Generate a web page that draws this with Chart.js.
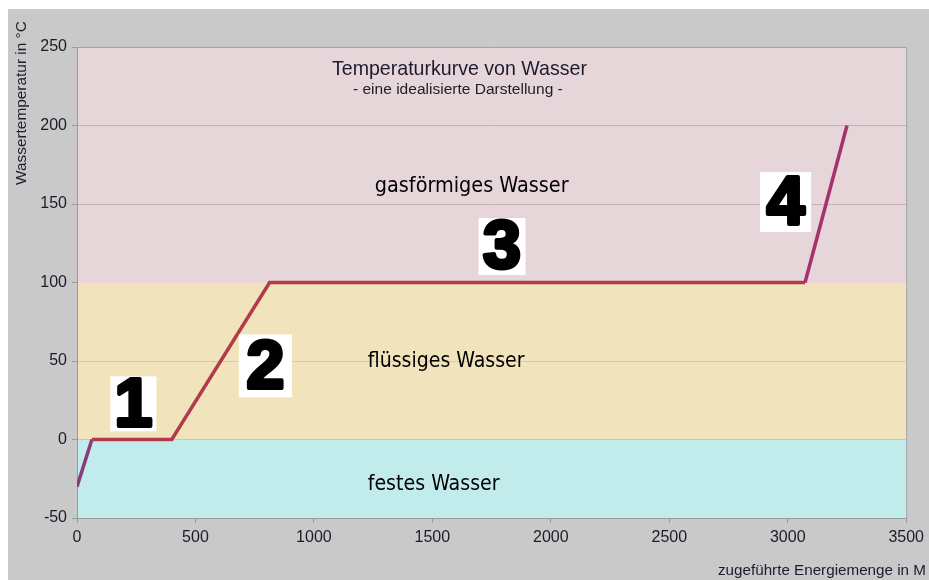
<!DOCTYPE html>
<html>
<head>
<meta charset="utf-8">
<script src="https://cdn.jsdelivr.net/npm/chart.js@4.4.1/dist/chart.umd.min.js"></script>
<style>
  html, body { margin: 0; padding: 0; background: #fff; }
  #wrap { width: 929px; height: 580px; }
</style>
</head>
<body>
<div id="wrap"><canvas id="myChart" width="929" height="580"></canvas></div>
<script>
// Werte
const energy = [0, 63, 400, 813, 3073, 3250];
const temperature = [-30, 0, 0, 100, 100, 200];
const segmentColors = ['#8c3a7e', '#b23a4a', '#b23a4a', '#b23a4a', '#a8306c'];

const phaseNames = ['festes Wasser', 'flüssiges Wasser', 'gasförmiges Wasser'];
const phaseFrom = [-50, 0, 100];
const phaseTo = [0, 100, 250];
const phaseColors = ['#c2ebec', '#f1e4bc', '#e6d6d9'];

const stageLabels = ['1', '2', '3', '4'];

const yMin = -50, yMax = 250, yStep = 50;
const xMin = 0, xMax = 3500, xStep = 500;

const gridColors = { 250: 'rgba(0,0,0,0)', 200: '#c9b0b4', 150: '#c9b0b4', 100: '#efd3da', 50: '#dccb9e', 0: '#a2d6de', '-50': 'rgba(0,0,0,0)' };

// helper: font size so that the text gets a given width
function fitSize(ctx, text, family, weight, width) {
  ctx.font = weight + ' 100px ' + family;
  return 100 * width / ctx.measureText(text).width;
}
function drawFit(ctx, text, x, y, width, family, weight, color) {
  const size = fitSize(ctx, text, family, weight, width);
  ctx.font = weight + ' ' + size + 'px ' + family;
  ctx.fillStyle = color;
  ctx.fillText(text, x, y);
}

const backgroundPlugin = {
  id: 'background',
  beforeDraw(chart) {
    const ctx = chart.ctx;
    const area = chart.chartArea;
    const y = chart.scales.y;
    ctx.save();
    ctx.fillStyle = '#fff';
    ctx.fillRect(0, 0, chart.width, chart.height);
    ctx.fillStyle = '#c9c9c9';
    ctx.fillRect(8, 9, chart.width - 8, chart.height - 9);
    for (let i = 0; i < phaseNames.length; i++) {
      const top = y.getPixelForValue(phaseTo[i]);
      const bottom = y.getPixelForValue(phaseFrom[i]);
      ctx.fillStyle = phaseColors[i];
      ctx.fillRect(area.left, top, area.right - area.left, bottom - top);
    }
    ctx.restore();
  }
};

const labelPlugin = {
  id: 'labels',
  afterDatasetsDraw(chart) {
    const ctx = chart.ctx;
    const area = chart.chartArea;
    const x = chart.scales.x, y = chart.scales.y;
    ctx.save();

    // Rahmen oben und rechts
    ctx.strokeStyle = '#a2a5a8';
    ctx.lineWidth = 1;
    ctx.beginPath();
    ctx.moveTo(area.left, area.top + 0.5);
    ctx.lineTo(area.right + 0.5, area.top + 0.5);
    ctx.lineTo(area.right + 0.5, area.bottom);
    ctx.stroke();

    // Titel
    ctx.textBaseline = 'alphabetic';
    ctx.textAlign = 'left';
    drawFit(ctx, 'Temperaturkurve von Wasser', 332, 75, 255, 'Liberation Sans, Arial, sans-serif', 'normal', '#1c1c2c');
    drawFit(ctx, '- eine idealisierte Darstellung -', 353, 94, 210, 'Liberation Sans, Arial, sans-serif', 'normal', '#1c1c2c');

    // Phasen
    const phaseX = [1227, 1227, 1257];
    const phaseY = [-32, 46, 157.7];
    const phaseW = [132, 157, 194];
    for (let i = 0; i < phaseNames.length; i++) {
      drawFit(ctx, phaseNames[i], x.getPixelForValue(phaseX[i]), y.getPixelForValue(phaseY[i]), phaseW[i],
        '"DejaVu Sans Condensed", "DejaVu Sans", sans-serif', 'normal', '#000');
    }

    // Nummern in weissen Kaesten
    const boxX = [238, 795, 1794, 2991];
    const boxY = [22.7, 46.9, 122.9, 151.3];
    const boxW = [46, 53, 47, 51];
    const boxH = [55, 63, 57, 60];
    ctx.textAlign = 'center';
    ctx.textBaseline = 'middle';
    for (let i = 0; i < stageLabels.length; i++) {
      const cx = x.getPixelForValue(boxX[i]);
      const cy = y.getPixelForValue(boxY[i]);
      ctx.fillStyle = '#fff';
      ctx.fillRect(cx - boxW[i] / 2, cy - boxH[i] / 2, boxW[i], boxH[i]);
      ctx.font = 'bold 68px "Liberation Sans", Arial, sans-serif';
      ctx.fillStyle = '#000';
      ctx.strokeStyle = '#000';
      ctx.lineWidth = 4;
      ctx.lineJoin = 'round';
      ctx.strokeText(stageLabels[i], cx, cy + 3);
      ctx.fillText(stageLabels[i], cx, cy + 3);
    }

    // Achsentitel
    ctx.textAlign = 'left';
    ctx.textBaseline = 'alphabetic';
    ctx.save();
    ctx.translate(26, 185);
    ctx.rotate(-Math.PI / 2);
    drawFit(ctx, 'Wassertemperatur in °C', 0, 0, 164, 'Liberation Sans, Arial, sans-serif', 'normal', '#1c1c2c');
    ctx.restore();
    drawFit(ctx, 'zugeführte Energiemenge in M', 718, 575, 208, 'Liberation Sans, Arial, sans-serif', 'normal', '#1c1c2c');
    ctx.restore();
  }
};

const tickFont = { family: 'Liberation Sans, Arial, sans-serif', size: 16 };

const ctx = document.getElementById('myChart').getContext('2d');
new Chart(ctx, {
  type: 'line',
  data: {
    datasets: [{
      data: energy.map((e, i) => ({ x: e, y: temperature[i] })),
      borderColor: '#b23a4a',
      borderWidth: 3.5,
      pointRadius: 0,
      fill: false,
      tension: 0,
      segment: {
        borderColor: (c) => segmentColors[c.p0DataIndex]
      }
    }]
  },
  options: {
    responsive: false,
    animation: false,
    layout: { padding: { top: 47, right: 22, left: 0, bottom: 0 } },
    plugins: {
      legend: { display: false },
      tooltip: { enabled: false }
    },
    scales: {
      x: {
        type: 'linear',
        min: xMin,
        max: xMax,
        afterFit: (scale) => { scale.height = 62; },
        ticks: { stepSize: xStep, padding: 5, color: '#1b1b2b', font: tickFont, callback: (v) => String(v) },
        grid: { drawOnChartArea: false, drawTicks: true, tickLength: 5, color: '#9a9a9a' },
        border: { color: '#9a9a9a' }
      },
      y: {
        min: yMin,
        max: yMax,
        afterFit: (scale) => { scale.width = 77; },
        ticks: { stepSize: yStep, padding: 5, color: '#1b1b2b', font: tickFont, callback: (v) => String(v) },
        grid: {
          drawTicks: true,
          tickLength: 5,
          color: (c) => c.tick ? (gridColors[c.tick.value] || '#c9b0b4') : '#c9b0b4',
          tickColor: '#9a9a9a'
        },
        border: { color: '#9a9a9a' }
      }
    }
  },
  plugins: [backgroundPlugin, labelPlugin]
});
</script>
</body>
</html>
